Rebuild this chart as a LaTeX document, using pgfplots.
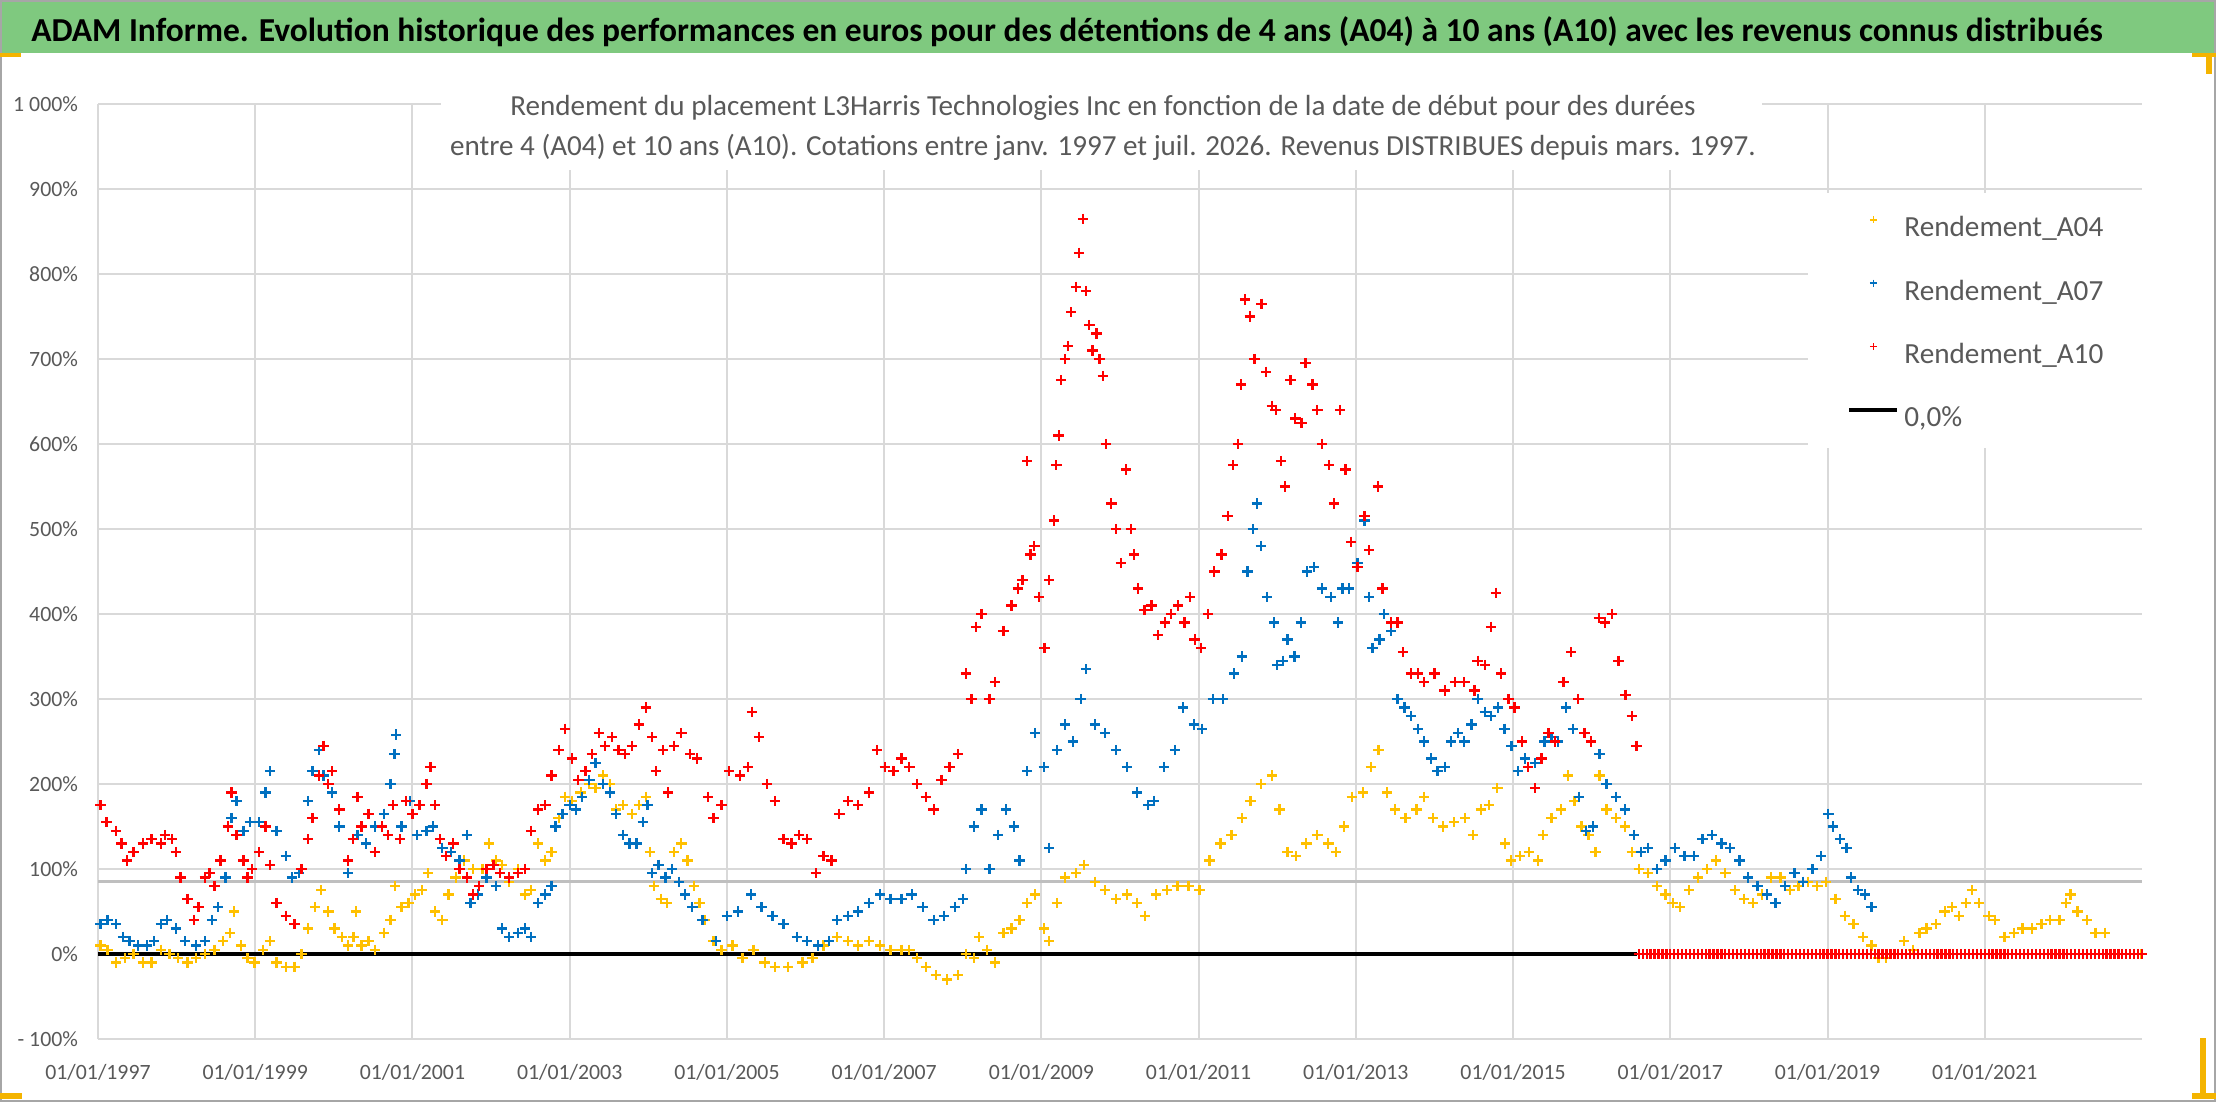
\documentclass[border=0pt]{standalone}
\usepackage{fontspec}
\setmainfont{Carlito}
\usepackage{pgfplots}
\pgfplotsset{compat=1.18}
\definecolor{cyellow}{HTML}{FFC000}
\definecolor{cblue}{HTML}{0070C0}
\definecolor{cred}{HTML}{FF0000}
\definecolor{gridgray}{HTML}{D9D9D9}
\definecolor{txtgray}{HTML}{595959}
\definecolor{titlegreen}{HTML}{7FC97F}
\definecolor{framegray}{HTML}{A6A6A6}
\definecolor{oddgray}{HTML}{BFBFBF}
\definecolor{handle}{HTML}{F4B400}
\begin{document}
\begin{tikzpicture}
\useasboundingbox (0pt,0pt) rectangle (1108pt,551pt);
\fill[white] (0pt,0pt) rectangle (1108pt,551pt);
\fill[titlegreen] (0pt,524.5pt) rectangle (1108pt,551pt);
\begin{axis}[
  at={(49pt,31.5pt)}, anchor=south west,
  width=1022pt, height=467.5pt, scale only axis,
  xmin=1997, xmax=2023, ymin=-100, ymax=1000,
  clip=false,
  axis line style={draw=none},
  major tick length=0pt,
  xtick={1997,1999,2001,2003,2005,2007,2009,2011,2013,2015,2017,2019,2021},
  xticklabels={01/01/1997,01/01/1999,01/01/2001,01/01/2003,01/01/2005,01/01/2007,01/01/2009,01/01/2011,01/01/2013,01/01/2015,01/01/2017,01/01/2019,01/01/2021},
  ytick={-100,0,100,200,300,400,500,600,700,800,900,1000},
  yticklabels={- 100\%,0\%,100\%,200\%,300\%,400\%,500\%,600\%,700\%,800\%,900\%,1 000\%},
  xmajorgrids, ymajorgrids,
  major grid style={draw=gridgray, line width=1pt},
  ticklabel style={font=\fontsize{10.9}{12}\selectfont, text=txtgray},
  xticklabel style={yshift=-9pt},
  yticklabel style={xshift=-6.5pt},
  /pgf/number format/assume math mode=true,
  legend style={at={(0.8557,0.8809)}, anchor=north west, draw=none, fill=none,
    inner sep=0pt, row sep=18.2pt, column sep=0pt,
    font=\fontsize{14.6}{17}\selectfont, text=txtgray,
    nodes={inner sep=0pt, text height=10.5pt, text depth=3pt},
    /tikz/every odd column/.append style={column sep=2.5pt}},
  legend cell align=left,
  legend image code/.code={\draw[mark repeat=2,mark phase=2,#1,mark size=1.75pt,mark options={line width=0.8pt}] plot coordinates {(0pt,4.7pt) (12pt,4.7pt) (24pt,4.7pt)};},
]
% white boxes behind title and legend
\fill[white] (rel axis cs:0.1678,0.9294) rectangle (rel axis cs:0.8141,1.01);
\fill[white] (rel axis cs:0.8366,0.6321) rectangle (rel axis cs:1.005,0.9048);
% odd gray line
\addplot[oddgray, line width=1.2pt, forget plot] coordinates {(1997,85.3) (2023,85.3)};
% A04
\addplot[only marks, mark=+, mark size=2.6pt, line width=1.15pt, color=cyellow] table {
x y
1997.03 10
1997.12 5
1997.23 -10
1997.34 -5
1997.45 0
1997.57 -10
1997.68 -10
1997.8 5
1997.91 0
1998.02 -5
1998.14 -10
1998.25 -5
1998.36 0
1998.48 5
1998.59 15
1998.68 25
1998.73 50
1998.82 10
1998.9 -5
1998.99 -10
1999.1 5
1999.19 15
1999.27 -10
1999.39 -15
1999.5 -15
1999.59 0
1999.67 30
1999.76 55
1999.84 75
1999.93 50
2000.01 30
2000.1 20
2000.18 10
2000.25 20
2000.28 50
2000.35 10
2000.44 15
2000.52 5
2000.64 25
2000.72 40
2000.78 80
2000.86 55
2000.95 60
2001.03 70
2001.12 75
2001.2 95
2001.29 50
2001.38 40
2001.46 70
2001.55 90
2001.66 110
2001.77 100
2001.89 100
2001.97 130
2002.06 110
2002.14 105
2002.23 85
2002.34 100
2002.43 70
2002.51 75
2002.6 130
2002.69 110
2002.77 120
2002.86 160
2002.94 185
2003.03 180
2003.14 190
2003.25 200
2003.33 195
2003.42 210
2003.51 200
2003.59 170
2003.68 175
2003.79 165
2003.88 175
2003.97 185
2004.02 120
2004.07 80
2004.16 65
2004.24 60
2004.33 120
2004.42 130
2004.5 110
2004.58 80
2004.65 60
2004.72 40
2004.83 15
2004.93 5
2005.07 10
2005.2 -5
2005.34 5
2005.48 -10
2005.61 -15
2005.78 -15
2005.96 -10
2006.09 -5
2006.23 10
2006.4 20
2006.54 15
2006.67 10
2006.81 15
2006.95 10
2007.08 5
2007.22 5
2007.32 5
2007.42 -5
2007.53 -15
2007.66 -25
2007.8 -30
2007.94 -25
2008.04 0
2008.14 -5
2008.21 20
2008.31 5
2008.41 -10
2008.52 25
2008.62 30
2008.72 40
2008.82 60
2008.92 70
2009.03 30
2009.1 15
2009.2 60
2009.3 90
2009.44 95
2009.54 105
2009.68 85
2009.81 75
2009.95 65
2010.09 70
2010.22 60
2010.32 45
2010.46 70
2010.6 75
2010.73 80
2010.87 80
2011.01 75
2011.14 110
2011.28 130
2011.42 140
2011.55 160
2011.66 180
2011.79 200
2011.93 210
2012.03 170
2012.13 120
2012.24 115
2012.37 130
2012.51 140
2012.65 130
2012.75 120
2012.85 150
2012.95 185
2013.09 190
2013.19 220
2013.29 240
2013.4 190
2013.5 170
2013.63 160
2013.77 170
2013.87 185
2013.98 160
2014.11 150
2014.25 155
2014.39 160
2014.49 140
2014.59 170
2014.69 175
2014.8 195
2014.9 130
2014.97 110
2015.09 115
2015.2 120
2015.32 110
2015.38 140
2015.49 160
2015.61 170
2015.7 210
2015.78 180
2015.87 150
2015.96 140
2016.05 120
2016.1 210
2016.19 170
2016.31 160
2016.42 150
2016.51 120
2016.6 100
2016.72 95
2016.83 80
2016.94 70
2017.03 60
2017.12 55
2017.24 75
2017.35 90
2017.47 100
2017.58 110
2017.7 95
2017.82 75
2017.94 65
2018.05 60
2018.17 70
2018.28 90
2018.4 90
2018.52 75
2018.63 80
2018.75 85
2018.87 80
2018.98 85
2019.1 65
2019.22 45
2019.33 35
2019.45 20
2019.56 10
2019.65 -5
2019.74 -5
2019.85 0
2019.97 15
2020.09 5
2020.17 25
2020.26 30
2020.38 35
2020.49 50
2020.58 55
2020.67 45
2020.76 60
2020.84 75
2020.93 60
2021.05 45
2021.13 40
2021.25 20
2021.37 25
2021.48 30
2021.6 30
2021.72 35
2021.83 40
2021.95 40
2022.03 60
2022.09 70
2022.18 50
2022.3 40
2022.41 25
2022.53 25
2022.6 0
2022.7 0
2022.8 0
2022.9 0
2022.99 0
};
\addlegendentry{Rendement\_A04}
% A07
\addplot[only marks, mark=+, mark size=2.6pt, line width=1.15pt, color=cblue] table {
x y
1997.03 35
1997.12 40
1997.23 35
1997.32 20
1997.4 15
1997.51 10
1997.62 10
1997.71 15
1997.8 35
1997.88 40
1997.99 30
1998.11 15
1998.25 10
1998.36 15
1998.45 40
1998.53 55
1998.62 90
1998.7 160
1998.76 180
1998.85 145
1998.93 155
1999.05 155
1999.13 190
1999.19 215
1999.27 145
1999.39 115
1999.47 90
1999.56 95
1999.67 180
1999.73 215
1999.81 240
1999.87 210
1999.98 190
2000.07 150
2000.18 95
2000.3 140
2000.41 130
2000.52 150
2000.64 165
2000.72 200
2000.77 235
2000.79 258
2000.86 150
2000.97 180
2001.06 140
2001.18 145
2001.26 150
2001.38 125
2001.49 120
2001.6 110
2001.69 140
2001.74 60
2001.83 70
2001.94 90
2002.06 80
2002.14 30
2002.23 20
2002.34 25
2002.43 30
2002.51 20
2002.6 60
2002.69 70
2002.77 80
2002.82 150
2002.91 165
2003.0 175
2003.08 170
2003.16 185
2003.25 205
2003.33 225
2003.42 200
2003.51 190
2003.59 165
2003.68 140
2003.76 130
2003.85 130
2003.93 155
2003.99 175
2004.05 95
2004.13 105
2004.22 90
2004.3 100
2004.39 85
2004.47 70
2004.56 55
2004.69 40
2004.86 15
2005.0 45
2005.14 50
2005.31 70
2005.44 55
2005.58 45
2005.72 35
2005.89 20
2006.02 15
2006.16 10
2006.3 15
2006.4 40
2006.54 45
2006.67 50
2006.81 60
2006.95 70
2007.08 65
2007.22 65
2007.35 70
2007.49 55
2007.63 40
2007.76 45
2007.9 55
2008.0 65
2008.04 100
2008.14 150
2008.24 170
2008.34 100
2008.45 140
2008.55 170
2008.65 150
2008.72 110
2008.82 215
2008.92 260
2009.03 220
2009.1 125
2009.2 240
2009.3 270
2009.4 250
2009.5 300
2009.57 335
2009.68 270
2009.81 260
2009.95 240
2010.09 220
2010.22 190
2010.36 175
2010.43 180
2010.56 220
2010.7 240
2010.8 290
2010.94 270
2011.04 265
2011.18 300
2011.31 300
2011.45 330
2011.55 350
2011.62 450
2011.69 500
2011.74 530
2011.79 480
2011.87 420
2011.96 390
2012.0 340
2012.07 345
2012.13 370
2012.22 350
2012.3 390
2012.38 450
2012.47 455
2012.57 430
2012.68 420
2012.77 390
2012.83 430
2012.91 430
2013.02 460
2013.11 510
2013.17 420
2013.21 360
2013.3 370
2013.36 400
2013.45 380
2013.53 300
2013.62 290
2013.7 280
2013.79 265
2013.87 250
2013.96 230
2014.04 215
2014.13 220
2014.21 250
2014.3 260
2014.38 250
2014.47 270
2014.55 300
2014.64 285
2014.72 280
2014.81 290
2014.89 265
2014.98 245
2015.06 215
2015.15 230
2015.28 225
2015.4 250
2015.49 255
2015.57 250
2015.67 290
2015.76 265
2015.84 185
2015.93 145
2016.02 150
2016.1 235
2016.19 200
2016.31 185
2016.42 170
2016.54 140
2016.63 120
2016.72 125
2016.83 100
2016.94 110
2017.06 125
2017.18 115
2017.3 115
2017.41 135
2017.53 140
2017.65 130
2017.76 125
2017.88 110
2017.99 90
2018.11 80
2018.23 70
2018.34 60
2018.46 80
2018.58 95
2018.69 85
2018.81 100
2018.92 115
2019.01 165
2019.07 150
2019.16 135
2019.24 125
2019.3 90
2019.39 75
2019.48 70
2019.56 55
};
\addlegendentry{Rendement\_A07}
% A10
\addplot[only marks, mark=+, mark size=2.6pt, line width=1.15pt, color=cred] table {
x y
1997.03 175
1997.11 155
1997.23 145
1997.3 130
1997.37 110
1997.45 120
1997.57 130
1997.68 135
1997.8 130
1997.85 140
1997.94 135
1997.99 120
1998.05 90
1998.14 65
1998.22 40
1998.28 55
1998.36 90
1998.42 95
1998.48 80
1998.56 110
1998.65 150
1998.7 190
1998.76 140
1998.85 110
1998.9 90
1998.96 100
1999.05 120
1999.13 150
1999.19 105
1999.27 60
1999.39 45
1999.5 35
1999.59 100
1999.67 135
1999.73 160
1999.81 210
1999.87 245
1999.93 200
1999.98 215
2000.07 170
2000.18 110
2000.24 135
2000.3 185
2000.35 150
2000.44 165
2000.52 120
2000.61 150
2000.69 140
2000.75 175
2000.84 135
2000.92 180
2001.0 165
2001.09 175
2001.18 200
2001.23 220
2001.29 175
2001.35 135
2001.43 115
2001.52 130
2001.6 100
2001.69 90
2001.77 70
2001.85 80
2001.94 100
2002.03 105
2002.11 95
2002.23 90
2002.34 95
2002.43 100
2002.51 145
2002.6 170
2002.69 175
2002.77 210
2002.86 240
2002.94 265
2003.03 230
2003.11 205
2003.2 215
2003.28 235
2003.37 260
2003.45 245
2003.54 255
2003.62 240
2003.7 235
2003.79 245
2003.88 270
2003.97 290
2004.05 255
2004.1 215
2004.19 240
2004.25 190
2004.33 245
2004.42 260
2004.53 235
2004.62 230
2004.76 185
2004.83 160
2004.93 175
2005.03 215
2005.17 210
2005.27 220
2005.32 285
2005.41 255
2005.51 200
2005.61 180
2005.72 135
2005.82 130
2005.92 140
2006.02 135
2006.13 95
2006.23 115
2006.33 110
2006.43 165
2006.54 180
2006.67 175
2006.81 190
2006.91 240
2007.01 220
2007.12 215
2007.22 230
2007.32 220
2007.42 200
2007.53 185
2007.63 170
2007.73 205
2007.83 220
2007.94 235
2008.04 330
2008.11 300
2008.17 385
2008.24 400
2008.34 300
2008.41 320
2008.52 380
2008.62 410
2008.7 430
2008.76 440
2008.82 580
2008.86 470
2008.91 480
2008.97 420
2009.04 360
2009.1 440
2009.16 510
2009.19 575
2009.22 610
2009.25 675
2009.3 700
2009.34 715
2009.38 755
2009.44 785
2009.48 825
2009.53 865
2009.57 780
2009.61 740
2009.65 710
2009.7 730
2009.74 700
2009.78 680
2009.82 600
2009.89 530
2009.95 500
2010.01 460
2010.08 570
2010.14 500
2010.18 470
2010.23 430
2010.31 405
2010.4 410
2010.48 375
2010.57 390
2010.65 400
2010.74 410
2010.82 390
2010.89 420
2010.95 370
2011.03 360
2011.12 400
2011.2 450
2011.29 470
2011.37 515
2011.44 575
2011.5 600
2011.54 670
2011.59 770
2011.65 750
2011.71 700
2011.8 765
2011.86 685
2011.93 645
2011.98 640
2012.05 580
2012.1 550
2012.17 675
2012.23 630
2012.31 625
2012.36 695
2012.45 670
2012.51 640
2012.57 600
2012.66 575
2012.72 530
2012.8 640
2012.87 570
2012.94 485
2013.02 455
2013.11 515
2013.17 475
2013.28 550
2013.34 430
2013.45 390
2013.53 390
2013.6 355
2013.7 330
2013.79 330
2013.87 320
2014.0 330
2014.13 310
2014.26 320
2014.38 320
2014.51 310
2014.55 345
2014.64 340
2014.72 385
2014.78 425
2014.85 330
2014.94 300
2015.02 290
2015.11 250
2015.19 220
2015.28 195
2015.36 230
2015.45 260
2015.53 250
2015.64 320
2015.74 355
2015.83 300
2015.91 260
2015.99 250
2016.09 395
2016.17 390
2016.26 400
2016.34 345
2016.43 305
2016.51 280
2016.57 245
2016.6 0
2016.65 0
2016.7 0
2016.75 0
2016.8 0
2016.85 0
2016.9 0
2016.95 0
2017.0 0
2017.05 0
2017.1 0
2017.15 0
2017.2 0
2017.25 0
2017.3 0
2017.35 0
2017.4 0
2017.45 0
2017.5 0
2017.55 0
2017.6 0
2017.65 0
2017.7 0
2017.75 0
2017.8 0
2017.85 0
2017.9 0
2017.95 0
2018.0 0
2018.05 0
2018.1 0
2018.15 0
2018.2 0
2018.25 0
2018.3 0
2018.35 0
2018.4 0
2018.45 0
2018.5 0
2018.55 0
2018.6 0
2018.65 0
2018.7 0
2018.75 0
2018.8 0
2018.85 0
2018.9 0
2018.95 0
2019.0 0
2019.05 0
2019.1 0
2019.15 0
2019.2 0
2019.25 0
2019.3 0
2019.35 0
2019.4 0
2019.45 0
2019.5 0
2019.55 0
2019.6 0
2019.65 0
2019.7 0
2019.75 0
2019.8 0
2019.85 0
2019.9 0
2019.95 0
2020.0 0
2020.05 0
2020.1 0
2020.15 0
2020.2 0
2020.25 0
2020.3 0
2020.35 0
2020.4 0
2020.45 0
2020.5 0
2020.55 0
2020.6 0
2020.65 0
2020.7 0
2020.75 0
2020.8 0
2020.85 0
2020.9 0
2020.95 0
2021.0 0
2021.05 0
2021.1 0
2021.15 0
2021.2 0
2021.25 0
2021.3 0
2021.35 0
2021.4 0
2021.45 0
2021.5 0
2021.55 0
2021.6 0
2021.65 0
2021.7 0
2021.75 0
2021.8 0
2021.85 0
2021.9 0
2021.95 0
2022.0 0
2022.05 0
2022.1 0
2022.15 0
2022.2 0
2022.25 0
2022.3 0
2022.35 0
2022.4 0
2022.45 0
2022.5 0
2022.55 0
2022.6 0
2022.65 0
2022.7 0
2022.75 0
2022.8 0
2022.85 0
2022.9 0
2022.95 0
2023.0 0
};
\addlegendentry{Rendement\_A10}
% zero line
\addplot[black, line width=2pt] coordinates {(1997,0) (2016.58,0)};
\addlegendentry{0,0\%}
\end{axis}
% titles
\node[font=\bfseries\fontsize{16.75}{20}\selectfont, text=black] at (533.5pt,535pt) {ADAM Informe. Evolution historique des performances en euros pour des détentions de 4 ans (A04) à 10 ans (A10) avec les revenus connus distribués};
\node[font=\fontsize{14.55}{17}\selectfont, text=txtgray, anchor=base] at (551.5pt,493pt) {Rendement du placement L3Harris Technologies Inc en fonction de la date de début pour des durées};
\node[font=\fontsize{14.55}{17}\selectfont, text=txtgray, anchor=base] at (551.5pt,473.3pt) {entre 4 (A04) et 10 ans (A10). Cotations entre janv. 1997 et juil. 2026. Revenus DISTRIBUES depuis mars. 1997.};
% frame and handles
\draw[framegray, line width=1.2pt] (0.6pt,0.6pt) rectangle (1107.4pt,550.4pt);
\fill[handle] (0pt,522.5pt) rectangle (10.5pt,524.5pt);
\fill[handle] (1096pt,522.5pt) rectangle (1108pt,524.5pt);
\fill[handle] (1103pt,514pt) rectangle (1106pt,524.5pt);
\fill[handle] (0pt,1.5pt) rectangle (11pt,4.5pt);
\fill[handle] (1096pt,1.5pt) rectangle (1108pt,4.5pt);
\fill[handle] (1100pt,1.5pt) rectangle (1103pt,32pt);
\end{tikzpicture}
\end{document}
